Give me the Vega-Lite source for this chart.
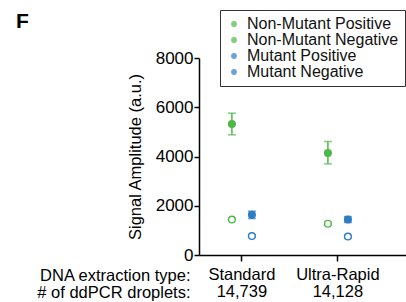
{
  "$schema": "https://vega.github.io/schema/vega-lite/v6.json",
  "autosize": {"type": "none"},
  "width": 207,
  "height": 197,
  "padding": {"left": 199, "top": 58, "right": 0, "bottom": 47},
  "title": {"text": "F", "anchor": "start", "fontSize": 21, "fontWeight": "bold", "font": "Liberation Sans", "color": "#000", "dx": -183, "dy": 22, "offset": 0, "baseline": "top", "frame": "group"},
  "config": {
    "view": {"stroke": null},
    "font": "Liberation Sans",
    "axis": {"labelFont": "Liberation Sans", "titleFont": "Liberation Sans", "labelColor": "#000", "titleColor": "#000", "domainColor": "#000", "tickColor": "#000", "grid": false, "labelFontSize": 17, "titleFontSize": 16.5, "titleFontWeight": "normal", "domainWidth": 1.5, "tickWidth": 1.5, "tickSize": 5}
  },
  "data": {"values": [
    {"extraction": "Standard", "target": "Non-Mutant", "series": "Non-Mutant Positive", "mean": 5320, "lo": 4880, "hi": 5760},
    {"extraction": "Standard", "target": "Non-Mutant", "series": "Non-Mutant Negative", "mean": 1440, "lo": 1440, "hi": 1440},
    {"extraction": "Standard", "target": "Mutant", "series": "Mutant Positive", "mean": 1630, "lo": 1480, "hi": 1780},
    {"extraction": "Standard", "target": "Mutant", "series": "Mutant Negative", "mean": 770, "lo": 720, "hi": 820},
    {"extraction": "Ultra-Rapid", "target": "Non-Mutant", "series": "Non-Mutant Positive", "mean": 4140, "lo": 3700, "hi": 4610},
    {"extraction": "Ultra-Rapid", "target": "Non-Mutant", "series": "Non-Mutant Negative", "mean": 1270, "lo": 1220, "hi": 1320},
    {"extraction": "Ultra-Rapid", "target": "Mutant", "series": "Mutant Positive", "mean": 1440, "lo": 1320, "hi": 1560},
    {"extraction": "Ultra-Rapid", "target": "Mutant", "series": "Mutant Negative", "mean": 750, "lo": 700, "hi": 800}
  ]},
  "encoding": {
    "x": {"field": "extraction", "type": "nominal", "sort": ["Standard", "Ultra-Rapid"],
      "scale": {"paddingInner": 0.5, "paddingOuter": 0.328, "align": 0.3},
      "axis": {"labelAngle": 0, "tickSize": 6, "labelPadding": 5, "labelFontSize": 16.5, "labelLineHeight": 17.5, "labelBaseline": "top",
        "labelExpr": "datum.value == 'Standard' ? ['Standard', '14,739'] : ['Ultra-Rapid', '14,128']",
        "title": ["DNA extraction type:", "# of ddPCR droplets:"], "titleFontSize": 16.5, "titleAlign": "right", "titleAnchor": "start", "titleX": -9, "titleY": 12, "titleBaseline": "top", "titleLineHeight": 17.5}},
    "xOffset": {"field": "target", "type": "nominal", "sort": ["Non-Mutant", "Mutant"], "scale": {"paddingInner": 0, "paddingOuter": 0.2}},
    "color": {"field": "series", "type": "nominal", "scale": {"domain": ["Non-Mutant Positive", "Non-Mutant Negative", "Mutant Positive", "Mutant Negative"], "range": ["#4db848", "#4db848", "#2e7dc3", "#2e7dc3"]},
      "legend": {"title": null, "orient": "none", "legendX": 21, "legendY": -48, "strokeColor": "#333", "padding": 6, "labelFontSize": 16, "labelFont": "Liberation Sans", "labelColor": "#111", "symbolSize": 22, "symbolStrokeWidth": 1.1, "rowPadding": 0, "labelOffset": 5}}
  },
  "layer": [
    {"mark": {"type": "rule", "strokeWidth": 1.5},
     "encoding": {"y": {"field": "lo", "type": "quantitative"}, "y2": {"field": "hi"}}},
    {"mark": {"type": "tick", "thickness": 1.5, "size": 8},
     "encoding": {"y": {"field": "lo", "type": "quantitative"}}},
    {"mark": {"type": "tick", "thickness": 1.5, "size": 8},
     "encoding": {"y": {"field": "hi", "type": "quantitative"}}},
    {"mark": {"type": "point", "shape": "circle", "size": 45, "strokeWidth": 1.4, "opacity": 1, "fillOpacity": 1},
     "encoding": {
       "y": {"field": "mean", "type": "quantitative", "scale": {"domain": [0, 8000], "nice": false},
         "axis": {"values": [0, 1000, 2000, 3000, 4000, 5000, 6000, 7000, 8000], "format": "d", "labelExpr": "datum.value % 2000 == 0 ? datum.label : ''", "title": "Signal Amplitude (a.u.)", "titlePadding": 12, "labelPadding": 1}},
       "fill": {"field": "series", "type": "nominal", "scale": {"domain": ["Non-Mutant Positive", "Non-Mutant Negative", "Mutant Positive", "Mutant Negative"], "range": ["#4db848", "#ffffff", "#2e7dc3", "#ffffff"]}, "legend": null}
     }}
  ]
}
